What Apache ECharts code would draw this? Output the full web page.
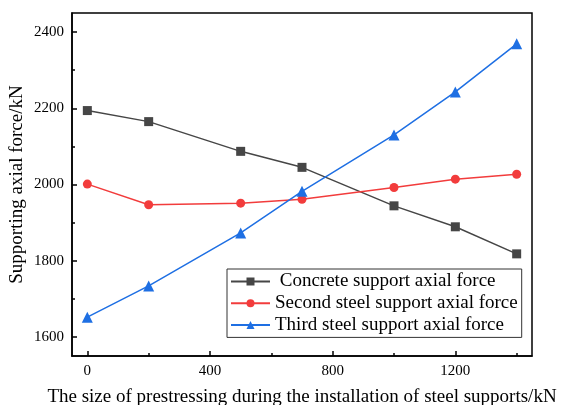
<!DOCTYPE html>
<html>
<head>
<meta charset="utf-8">
<script src="https://cdn.jsdelivr.net/npm/echarts@6/dist/echarts.min.js"></script>
<style>
  html, body { margin: 0; padding: 0; background: #fff; }
  #chart { width: 561px; height: 405px; }
</style>
</head>
<body>
<div id="chart"></div>
<script>
// Prestress applied to steel supports (kN)
const prestress = [0, 200, 500, 700, 1000, 1200, 1400];
// Axial forces in each support level (kN)
const concreteForce = [2194, 2165, 2087, 2045, 1944, 1889, 1818];
const secondSteelForce = [2001, 1947, 1951, 1961, 1992, 2014, 2027];
const thirdSteelForce = [1652, 1734, 1873, 1982, 2130, 2243, 2369];

const seriesNames = [
  ' Concrete support axial force',
  'Second steel support axial force',
  'Third steel support axial force'
];
const xMajorTicks = [0, 400, 800, 1200];
const xMinorTicks = [200, 600, 1000, 1400];
const yMajorTicks = [1600, 1800, 2000, 2200, 2400];
const yMinorTicks = [1700, 1900, 2100, 2300];

const FONT = '"Liberation Serif", "Times New Roman", serif';

const pairs = (ys) => prestress.map((x, i) => [x, ys[i]]);
const plain = (v) => String(v);

const chart = echarts.init(document.getElementById('chart'), null, { renderer: 'canvas' });

const tickStyle = { color: '#000', width: 1.5 };

chart.setOption({
  animation: false,
  backgroundColor: '#fff',
  grid: {
    left: 72, top: 13, right: 29, bottom: 49,
    show: true, borderColor: '#000', borderWidth: 1.5,
    outerBoundsMode: 'none',
    containLabel: false
  },
  legend: {
    orient: 'vertical',
    left: 227, top: 269,
    padding: [3, 4, 3, 3],
    itemGap: 2.7,
    itemWidth: 39, itemHeight: 10,
    borderColor: '#333', borderWidth: 1,
    backgroundColor: '#fff',
    textStyle: { fontFamily: FONT, fontSize: 19, color: '#000', lineHeight: 19 },
    data: seriesNames
  },
  xAxis: [
    {
      type: 'value', min: -50, max: 1450,
      splitLine: { show: false },
      name: 'The size of prestressing during the installation of steel supports/kN',
      nameLocation: 'middle', nameGap: 32,
      nameMoveOverlap: false,
      nameTextStyle: { fontFamily: FONT, fontSize: 19, color: '#000' },
      axisLine: { show: true, onZero: false, lineStyle: { color: '#000', width: 1.5 } },
      axisTick: { show: true, inside: true, length: 5, customValues: xMajorTicks, lineStyle: tickStyle },
      axisLabel: { customValues: xMajorTicks, formatter: plain, margin: 8, fontFamily: FONT, fontSize: 15, color: '#000' }
    },
    {
      type: 'value', min: -50, max: 1450, position: 'bottom',
      splitLine: { show: false },
      axisLine: { show: false, onZero: false },
      axisTick: { show: true, inside: true, length: 3, customValues: xMinorTicks, lineStyle: tickStyle },
      axisLabel: { show: false }
    }
  ],
  yAxis: [
    {
      type: 'value', min: 1550, max: 2450,
      splitLine: { show: false },
      name: 'Supporting axial force/kN',
      nameLocation: 'middle', nameGap: 45,
      nameMoveOverlap: false,
      nameTextStyle: { fontFamily: FONT, fontSize: 19, color: '#000' },
      axisLine: { show: true, onZero: false, lineStyle: { color: '#000', width: 1.5 } },
      axisTick: { show: true, inside: true, length: 5, customValues: yMajorTicks, lineStyle: tickStyle },
      axisLabel: { customValues: yMajorTicks, formatter: plain, margin: 8, fontFamily: FONT, fontSize: 15, color: '#000' }
    },
    {
      type: 'value', min: 1550, max: 2450, position: 'left',
      splitLine: { show: false },
      axisLine: { show: false, onZero: false },
      axisTick: { show: true, inside: true, length: 3, customValues: yMinorTicks, lineStyle: tickStyle },
      axisLabel: { show: false }
    }
  ],
  series: [
    {
      name: seriesNames[0], type: 'line', data: pairs(concreteForce),
      symbol: 'rect', symbolSize: 9,
      lineStyle: { color: '#464646', width: 1.5 },
      itemStyle: { color: '#464646' }
    },
    {
      name: seriesNames[1], type: 'line', data: pairs(secondSteelForce),
      symbol: 'circle', symbolSize: 9,
      lineStyle: { color: '#f23c3c', width: 1.5 },
      itemStyle: { color: '#f23c3c' }
    },
    {
      name: seriesNames[2], type: 'line', data: pairs(thirdSteelForce),
      symbol: 'triangle', symbolSize: 11,
      lineStyle: { color: '#1e6fe3', width: 1.5 },
      itemStyle: { color: '#1e6fe3' }
    }
  ]
});
</script>
</body>
</html>
